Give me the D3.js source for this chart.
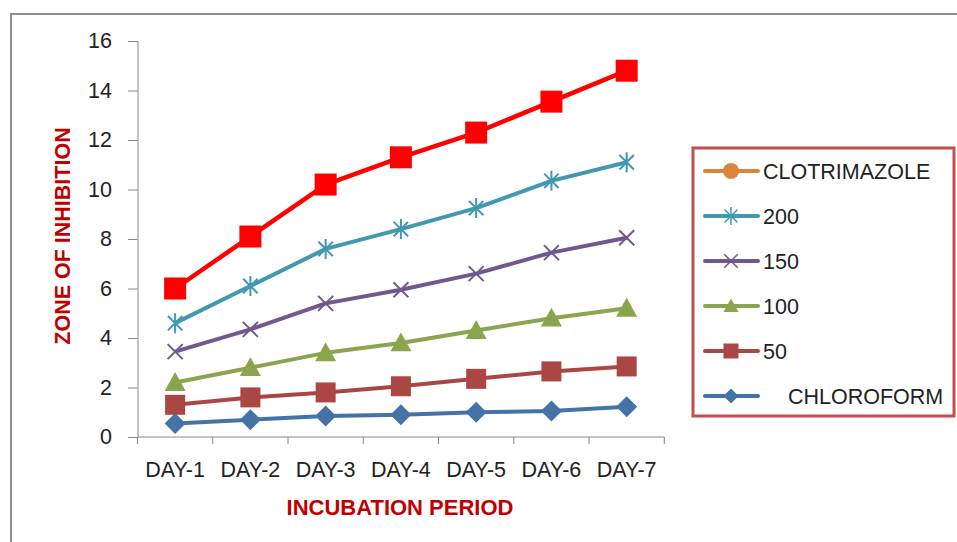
<!DOCTYPE html>
<html>
<head>
<meta charset="utf-8">
<script src="https://cdn.jsdelivr.net/npm/d3@7"></script>
<style>
  html, body { margin: 0; padding: 0; background: #fff; }
  svg { display: block; }
  text { font-family: "Liberation Sans", Arial, sans-serif; }
</style>
</head>
<body>
<svg id="chart" width="957" height="542"></svg>
<script>
// Incubation days
const days = ["DAY-1", "DAY-2", "DAY-3", "DAY-4", "DAY-5", "DAY-6", "DAY-7"];
const yTicks = [0, 2, 4, 6, 8, 10, 12, 14, 16];

// Zone of inhibition per day for each treatment
const clotrimazole = [6.0, 8.1, 10.2, 11.3, 12.3, 13.55, 14.8];
const conc200 = [4.6, 6.1, 7.6, 8.4, 9.25, 10.35, 11.1];
const conc150 = [3.45, 4.35, 5.4, 5.95, 6.6, 7.45, 8.05];
const conc100 = [2.2, 2.8, 3.4, 3.8, 4.3, 4.8, 5.2];
const conc50 = [1.3, 1.6, 1.8, 2.05, 2.35, 2.65, 2.85];
const chloroform = [0.55, 0.7, 0.85, 0.9, 1.0, 1.05, 1.22];

const seriesNames = ["CLOTRIMAZOLE", "200", "150", "100", "50", "CHLOROFORM"];

const series = [
  { name: seriesNames[0], values: clotrimazole, color: "#ff0000", marker: "square", size: 22, width: 4.5, legendColor: "#db843d", legendMarker: "circle" },
  { name: seriesNames[1], values: conc200, color: "#4198af", marker: "star", size: 20, width: 4 },
  { name: seriesNames[2], values: conc150, color: "#71588f", marker: "x", size: 20, width: 4 },
  { name: seriesNames[3], values: conc100, color: "#89a54e", marker: "triangle", size: 21, width: 4 },
  { name: seriesNames[4], values: conc50, color: "#aa4643", marker: "square", size: 20, width: 4 },
  { name: seriesNames[5], values: chloroform, color: "#4572a7", marker: "diamond", size: 21, width: 4 }
];

const svg = d3.select("#chart");

// outer chart frame
svg.append("rect")
  .attr("x", 11).attr("y", 14)
  .attr("width", 960).attr("height", 560)
  .attr("fill", "none")
  .attr("stroke", "#8c8c8c")
  .attr("stroke-width", 2);

const x = d3.scaleBand().domain(days).range([137.5, 664.3]);
const y = d3.scaleLinear().domain([0, 16]).range([437, 41]);

// y axis
const yAxis = svg.append("g")
  .attr("transform", "translate(137.5,0)")
  .call(d3.axisLeft(y).tickValues(yTicks).tickSize(9.5).tickPadding(16));
yAxis.select(".domain").attr("stroke", "#888").attr("stroke-width", 1);
yAxis.selectAll(".tick line").attr("stroke", "#888");
yAxis.selectAll(".tick text")
  .attr("font-family", "Liberation Sans, Arial, sans-serif")
  .attr("font-size", 21.5).attr("fill", "#222");

// x axis with category boundary ticks
const xAxisG = svg.append("g").attr("transform", "translate(0,437)");
xAxisG.append("line")
  .attr("x1", x.range()[0]).attr("x2", x.range()[1])
  .attr("stroke", "#888");
const bounds = days.map(d => x(d)).concat([x.range()[1]]);
xAxisG.selectAll("line.bt").data(bounds).join("line")
  .attr("class", "bt")
  .attr("x1", d => d).attr("x2", d => d)
  .attr("y1", 0).attr("y2", 7)
  .attr("stroke", "#888");
xAxisG.selectAll("text.lbl").data(days).join("text")
  .attr("class", "lbl")
  .attr("x", d => x(d) + x.bandwidth() / 2)
  .attr("y", 40)
  .attr("text-anchor", "middle")
  .attr("font-size", 21.5).attr("fill", "#222")
  .text(d => d);

// axis titles
svg.append("text")
  .attr("x", 400).attr("y", 515)
  .attr("text-anchor", "middle")
  .attr("font-size", 22).attr("font-weight", "bold")
  .attr("fill", "#c00000")
  .text("INCUBATION PERIOD");
svg.append("text")
  .attr("transform", "translate(70,236) rotate(-90)")
  .attr("text-anchor", "middle")
  .attr("font-size", 21.5).attr("font-weight", "bold")
  .attr("fill", "#c00000")
  .text("ZONE OF INHIBITION");

// marker path generators, centred on 0,0
function markerPath(type, s) {
  const h = s / 2;
  switch (type) {
    case "square": return `M${-h},${-h}H${h}V${h}H${-h}Z`;
    case "diamond": return `M0,${-h}L${h},0L0,${h}L${-h},0Z`;
    case "triangle": return `M0,${-h}L${h},${h * 0.8}L${-h},${h * 0.8}Z`;
    case "circle": return d3.symbol(d3.symbolCircle, Math.PI * h * h)();
    case "x": { const k = h * 0.75; return `M${-k},${-k}L${k},${k}M${k},${-k}L${-k},${k}`; }
    case "star": { const k = h * 0.72; return `M${-k},${-k}L${k},${k}M${k},${-k}L${-k},${k}M0,${-h}V${h}`; }
  }
}
const stroked = t => t === "x" || t === "star";

const line = d3.line()
  .x((d, i) => x(days[i]) + x.bandwidth() / 2)
  .y(d => y(d));

// draw bottom series first so the top ones sit above
series.slice().reverse().forEach(s => {
  const g = svg.append("g");
  g.append("path")
    .attr("d", line(s.values))
    .attr("fill", "none")
    .attr("stroke", s.color)
    .attr("stroke-width", s.width)
    .attr("stroke-linejoin", "round");
  g.selectAll("path.m").data(s.values).join("path")
    .attr("class", "m")
    .attr("transform", (d, i) => `translate(${x(days[i]) + x.bandwidth() / 2},${y(d)})`)
    .attr("d", markerPath(s.marker, s.size))
    .attr("fill", stroked(s.marker) ? "none" : s.color)
    .attr("stroke", stroked(s.marker) ? s.color : "none")
    .attr("stroke-width", 2);
});

// legend
const lg = svg.append("g");
lg.append("rect")
  .attr("x", 693).attr("y", 148)
  .attr("width", 261).attr("height", 268)
  .attr("fill", "#fff")
  .attr("stroke", "#c0504d")
  .attr("stroke-width", 3);
const rowY = d3.scalePoint().domain(seriesNames).range([171, 396]);
series.forEach(s => {
  const cy = rowY(s.name);
  const c = s.legendColor || s.color;
  const m = s.legendMarker || s.marker;
  lg.append("line")
    .attr("x1", 705).attr("x2", 758)
    .attr("y1", cy).attr("y2", cy)
    .attr("stroke", c).attr("stroke-width", 4)
    .attr("stroke-linecap", "round");
  lg.append("path")
    .attr("transform", `translate(731,${cy})`)
    .attr("d", markerPath(m, m === "circle" ? 16 : (stroked(m) ? 18 : 15)))
    .attr("fill", stroked(m) ? "none" : c)
    .attr("stroke", stroked(m) ? c : "none")
    .attr("stroke-width", 1.5);
  lg.append("text")
    .attr("x", s.name === "CHLOROFORM" ? 788 : 763)
    .attr("y", cy + 7.5)
    .attr("font-size", 21.5).attr("fill", "#222")
    .text(s.name);
});
</script>
</body>
</html>
